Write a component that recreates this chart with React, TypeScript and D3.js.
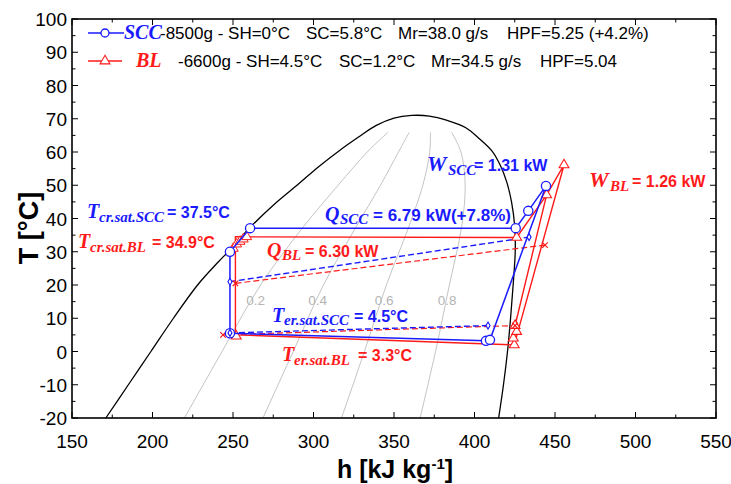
import React from "react";
import * as d3 from "d3";

const W = 731;
const H = 484;

// axis ticks
const xTicks = [150, 200, 250, 300, 350, 400, 450, 500, 550];
const yTicks = [-20, -10, 0, 10, 20, 30, 40, 50, 60, 70, 80, 90, 100];

// saturation dome (h, T)
const domeH = [171, 185, 199, 213, 228, 241, 248, 261, 275, 291, 303, 316, 328, 339, 350, 361, 372, 383, 394.6, 403, 410.7, 416, 420, 423, 425, 425.3, 424, 422.4, 420.5, 418, 415];
const domeT = [-20, -10, 0, 10, 20, 27, 30.5, 37.5, 44, 50.5, 55.5, 60.4, 64.5, 68, 70.2, 71, 70.8, 69.5, 67.3, 64, 60.4, 56, 51, 45, 37.5, 30, 20, 10, 0, -10, -20];

// constant quality lines
const qualityLabels = ["0.2", "0.4", "0.6", "0.8"];
const qualityT = [-20, 0, 20, 37.5, 50, 60, 65.9];
const q02H = [219.8, 243.2, 267.1, 293.7, 315.3, 333.4, 346.2];
const q04H = [268.6, 287.4, 306.2, 326.5, 341.6, 352.8, 359.4];
const q06H = [317.4, 331.6, 345.3, 359.2, 367.9, 372.2, 372.6];
const q08H = [366.2, 375.8, 384.4, 392, 394.2, 391.6, 385.8];
const qualityLabelH = [264, 302.5, 343.8, 383];
const qualityLabelT = [15.4, 15.4, 15.4, 15.4];

// SCC cycle (blue, circles)
const sccH = [444.4, 433.4, 425.6, 260.6, 248.1, 248.1, 407.1, 409.6, 444.4];
const sccT = [49.8, 42.3, 37.1, 37.1, 30.0, 5.5, 3.2, 3.5, 49.8];
const sccDashUpH = [248.1, 433.9];
const sccDashUpT = [21.0, 34.4];
const sccDashLowH = [248.1, 408.4];
const sccDashLowT = [5.6, 7.8];

// BL cycle (red, triangles)
const blH = [424.7, 455.6, 444.8, 426.2, 251.5, 251.5, 424.7, 424.1, 426.2, 425.2, 444.8];
const blT = [2.0, 56.1, 47.1, 34.3, 34.5, 5.0, 2.0, 4.0, 6.0, 7.8, 47.1];
const blMarkH = [455.6, 444.8, 426.2, 252.0, 424.7, 424.1, 426.2, 425.2];
const blMarkT = [56.1, 47.1, 34.3, 4.6, 2.0, 4.0, 6.0, 7.8];
const blZigH = [250.2, 252.3, 254.4, 256.4, 258.5];
const blZigT = [31.0, 32.3, 33.1, 33.8, 34.5];
const blDashUpH = [251.5, 443.8];
const blDashUpT = [20.5, 32.0];
const blDashLowH = [243.8, 425.2];
const blDashLowT = [5.0, 7.8];

const BLUE = "#1a1aff";
const RED = "#ff1a1a";
const SANS = "Arial, 'Liberation Sans', Helvetica, sans-serif";
const SERIF = "'Liberation Serif', 'DejaVu Serif', serif";

const x = d3.scaleLinear().domain([150, 550]).range([72, 716]);
const y = d3.scaleLinear().domain([-20, 100]).range([418, 19]);

type P = [number, number];
const zipPts = (hs: number[], ts: number[]): P[] => hs.map((h, i) => [h, ts[i]]);
const line = d3.line<P>().x((d) => x(d[0])).y((d) => y(d[1]));
const smooth = d3.line<P>().x((d) => x(d[0])).y((d) => y(d[1])).curve(d3.curveCatmullRom.alpha(0.5));

const tri = d3.symbol().type(d3.symbolTriangle).size(42)() as string;
const diamond = d3.symbol().type(d3.symbolDiamond).size(14)() as string;
const xMark = d3.symbol().type(d3.symbolX).size(22)() as string;

function Ann(props: { x: number; y: number; big: string; sub: string; subX: number; rest: string; restX: number; color: string; bigSize?: number; restSize?: number }) {
  const { color } = props;
  return (
    <g fill={color}>
      <text x={props.x} y={props.y} fontFamily={SERIF} fontStyle="italic" fontWeight="bold" fontSize={props.bigSize ?? 20}>{props.big}</text>
      <text x={props.subX} y={props.y + 3.5} fontFamily={SERIF} fontStyle="italic" fontWeight="bold" fontSize={15}>{props.sub}</text>
      <text x={props.restX} y={props.y} fontFamily={SANS} fontWeight="bold" fontSize={props.restSize ?? 16}>{props.rest}</text>
    </g>
  );
}

export default function App() {
  const left = x(150), right = x(550), top = y(100), bottom = y(-20);
  const xMinor = d3.range(150, 551, 25);
  const yMinor = d3.range(-20, 101, 5);
  const qualityLines = [q02H, q04H, q06H, q08H];
  return (
    <svg width={W} height={H} style={{ position: "absolute", left: 0, top: 0 }}>
      <rect width={W} height={H} fill="#fff" />
      {/* quality lines */}
      {qualityLines.map((hs, i) => (
        <path key={i} d={smooth(zipPts(hs, qualityT)) as string} fill="none" stroke="#c4c4c4" strokeWidth={1} />
      ))}
      {qualityLabels.map((s, i) => (
        <text key={s} x={x(qualityLabelH[i])} y={y(qualityLabelT[i]) + 5} textAnchor="middle" fontFamily={SANS} fontSize={13.5} fill="#b4b4b4">{s}</text>
      ))}
      {/* dome */}
      <path d={smooth(zipPts(domeH, domeT)) as string} fill="none" stroke="#000" strokeWidth={1.3} />

      {/* dashed lines */}
      <path d={line(zipPts(blDashUpH, blDashUpT)) as string} fill="none" stroke={RED} strokeWidth={1.2} strokeDasharray="6,3" />
      <path d={line(zipPts(blDashLowH, blDashLowT)) as string} fill="none" stroke={RED} strokeWidth={1.2} strokeDasharray="6,3" />
      <path d={line(zipPts(sccDashUpH, sccDashUpT)) as string} fill="none" stroke={BLUE} strokeWidth={1.4} strokeDasharray="6,3" />
      <path d={line(zipPts(sccDashLowH, sccDashLowT)) as string} fill="none" stroke={BLUE} strokeWidth={1.4} strokeDasharray="6,3" />

      {/* BL cycle */}
      <path d={line(zipPts(blH, blT)) as string} fill="none" stroke={RED} strokeWidth={1.4} />
      <path d={line(zipPts(blZigH, blZigT)) as string} fill="none" stroke={RED} strokeWidth={1.2} />
      {zipPts(blZigH, blZigT).map((p, i) => (
        <path key={"z" + i} d={tri} transform={`translate(${x(p[0])},${y(p[1])})`} fill="#fff" stroke={RED} strokeWidth={1} />
      ))}
      {zipPts(blMarkH, blMarkT).map((p, i) => (
        <path key={"t" + i} d={tri} transform={`translate(${x(p[0])},${y(p[1])})`} fill="#fff" stroke={RED} strokeWidth={1.1} />
      ))}
      {[...zipPts(blDashUpH, blDashUpT), ...zipPts(blDashLowH, blDashLowT)].map((p, i) => (
        <path key={"x" + i} d={xMark} transform={`translate(${x(p[0])},${y(p[1])})`} fill="none" stroke={RED} strokeWidth={1.2} />
      ))}

      {/* SCC cycle */}
      <path d={line(zipPts(sccH, sccT)) as string} fill="none" stroke={BLUE} strokeWidth={1.5} />
      {zipPts(sccH, sccT).slice(0, -1).map((p, i) => (
        <circle key={"c" + i} cx={x(p[0])} cy={y(p[1])} r={4.6} fill="#fff" stroke={BLUE} strokeWidth={1.3} />
      ))}
      {[...zipPts(sccDashUpH, sccDashUpT), ...zipPts(sccDashLowH, sccDashLowT)].map((p, i) => (
        <path key={"d" + i} d={diamond} transform={`translate(${x(p[0])},${y(p[1])})`} fill="#fff" stroke={BLUE} strokeWidth={1.1} />
      ))}

      {/* frame */}
      <rect x={left} y={top} width={right - left} height={bottom - top} fill="none" stroke="#000" strokeWidth={1.6} />
      {xMinor.map((v) => {
        const len = v % 50 === 0 ? 6 : 3.5;
        return (
          <g key={"xt" + v}>
            <line x1={x(v)} x2={x(v)} y1={bottom} y2={bottom - len} stroke="#000" strokeWidth={1} />
            <line x1={x(v)} x2={x(v)} y1={top} y2={top + len} stroke="#000" strokeWidth={1} />
          </g>
        );
      })}
      {yMinor.map((v) => {
        const len = v % 10 === 0 ? 6 : 3.5;
        return (
          <g key={"yt" + v}>
            <line x1={left} x2={left + len} y1={y(v)} y2={y(v)} stroke="#000" strokeWidth={1} />
            <line x1={right} x2={right - len} y1={y(v)} y2={y(v)} stroke="#000" strokeWidth={1} />
          </g>
        );
      })}
      {xTicks.map((v) => (
        <text key={"xl" + v} x={x(v)} y={448} textAnchor="middle" fontFamily={SANS} fontSize={19} fill="#000">{v}</text>
      ))}
      {yTicks.map((v) => (
        <text key={"yl" + v} x={67} y={y(v) + 7} textAnchor="end" fontFamily={SANS} fontSize={19} fill="#000">{v}</text>
      ))}
      <text x={395} y={478} textAnchor="middle" fontFamily={SANS} fontWeight="bold" fontSize={25} fill="#000">
        h [kJ kg<tspan dy={-9} fontSize={15}>-1</tspan><tspan dy={9}>]</tspan>
      </text>
      <text transform="translate(38,228) rotate(-90)" textAnchor="middle" fontFamily={SANS} fontWeight="bold" fontSize={27} fill="#000">T [°C]</text>

      {/* legend */}
      <line x1={88} x2={124} y1={33} y2={33} stroke={BLUE} strokeWidth={1.4} />
      <circle cx={105} cy={33} r={4} fill="#fff" stroke={BLUE} strokeWidth={1.3} />
      <text x={124} y={39} fontFamily={SERIF} fontStyle="italic" fontWeight="bold" fontSize={20} fill={BLUE}>SCC</text>
      <g fontFamily={SANS} fontSize={17} fill="#000">
        <text x={160} y={39}>-8500g - SH=0°C</text>
        <text x={306} y={39}>SC=5.8°C</text>
        <text x={398} y={39}>Mr=38.0 g/s</text>
        <text x={507} y={39}>HPF=5.25 (+4.2%)</text>
      </g>
      <line x1={88} x2={122} y1={61} y2={61} stroke={RED} strokeWidth={1.4} />
      <path d={tri} transform="translate(105,61)" fill="#fff" stroke={RED} strokeWidth={1.1} />
      <text x={136} y={67} fontFamily={SERIF} fontStyle="italic" fontWeight="bold" fontSize={20} fill={RED}>BL</text>
      <g fontFamily={SANS} fontSize={17} fill="#000">
        <text x={178} y={67}>-6600g - SH=4.5°C</text>
        <text x={339} y={67}>SC=1.2°C</text>
        <text x={431} y={67}>Mr=34.5 g/s</text>
        <text x={540} y={67}>HPF=5.04</text>
      </g>

      {/* annotations */}
      <Ann x={87} y={218} big="T" sub="cr.sat.SCC" subX={99} rest="= 37.5°C" restX={167} color={BLUE} />
      <Ann x={78} y={248} big="T" sub="cr.sat.BL" subX={90} rest="= 34.9°C" restX={152} color={RED} />
      <Ann x={325} y={220.5} big="Q" sub="SCC" subX={340} rest="= 6.79 kW(+7.8%)" restX={373} color={BLUE} restSize={17} />
      <Ann x={267} y={256.5} big="Q" sub="BL" subX={282} rest="= 6.30 kW" restX={305} color={RED} />
      <Ann x={427} y={171} big="W" sub="SCC" subX={448} rest="= 1.31 kW" restX={474} color={BLUE} bigSize={22} />
      <Ann x={589} y={187} big="W" sub="BL" subX={610} rest="= 1.26 kW" restX={632} color={RED} bigSize={22} />
      <Ann x={272} y={321.5} big="T" sub="er.sat.SCC" subX={284} rest="= 4.5°C" restX={354} color={BLUE} />
      <Ann x={282} y={361} big="T" sub="er.sat.BL" subX={294} rest="= 3.3°C" restX={358} color={RED} />
    </svg>
  );
}
